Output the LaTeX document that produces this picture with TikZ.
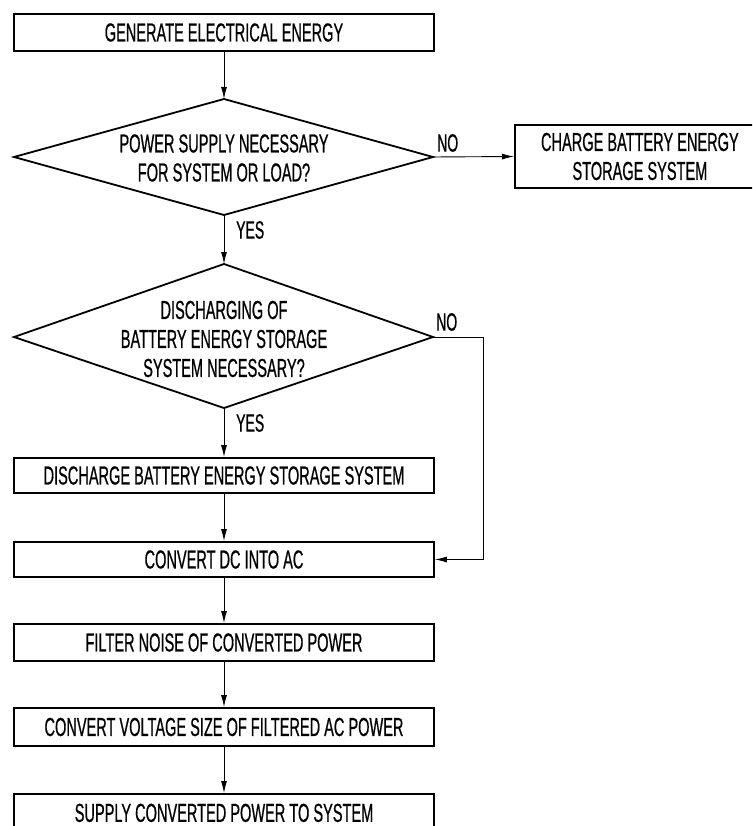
\documentclass[tikz,border=0pt]{standalone}
\usepackage{fontspec}
\setmainfont{Liberation Sans}[FakeStretch=0.56,FakeBold=0.6]
\usetikzlibrary{arrows.meta}
\begin{document}
\begin{tikzpicture}[x=1pt,y=-1pt,
  box/.style={draw, line width=1.8pt, inner sep=0pt, font=\fontsize{26}{29}\selectfont, align=center},
  dtext/.style={inner sep=0pt, font=\fontsize{26}{29}\selectfont, align=center},
  lbl/.style={inner sep=0pt, font=\fontsize{25}{26}\selectfont},
  dshape/.style={draw, line width=1.8pt, line join=miter},
  conn/.style={line width=0.9pt, -{Latex[length=12pt,width=6pt]}}]
\clip (0,0) rectangle (752,826);
\useasboundingbox (0,0) rectangle (752,826);
% boxes
\node[box, minimum width=420pt, minimum height=37pt] (gen) at (224,32.5) {GENERATE ELECTRICAL ENERGY};
\node[box, minimum width=250pt, minimum height=63pt, anchor=west] (charge) at (514,156.5) {CHARGE BATTERY ENERGY\\STORAGE SYSTEM};
\node[box, minimum width=420pt, minimum height=35pt] (dis) at (224,475.5) {DISCHARGE BATTERY ENERGY STORAGE SYSTEM};
\node[box, minimum width=420pt, minimum height=35pt] (dcac) at (224,559.5) {CONVERT DC INTO AC};
\node[box, minimum width=420pt, minimum height=37pt] (filt) at (224,642.5) {FILTER NOISE OF CONVERTED POWER};
\node[box, minimum width=420pt, minimum height=38pt] (volt) at (224,727) {CONVERT VOLTAGE SIZE OF FILTERED AC POWER};
\node[box, minimum width=420pt, minimum height=38pt, anchor=north] (sup) at (224,793) {SUPPLY CONVERTED POWER TO SYSTEM};
% diamond 1
\coordinate (d1t) at (224,99);
\coordinate (d1r) at (433,157);
\coordinate (d1b) at (224,215);
\coordinate (d1l) at (14,157);
\draw[dshape] (d1t) -- (d1r) -- (d1b) -- (d1l) -- cycle;
\node[dtext] (d1) at (224,158) {POWER SUPPLY NECESSARY\\FOR SYSTEM OR LOAD?};
% diamond 2
\coordinate (d2t) at (224,264);
\coordinate (d2r) at (433,337);
\coordinate (d2b) at (224,408);
\coordinate (d2l) at (14,337);
\draw[dshape] (d2t) -- (d2r) -- (d2b) -- (d2l) -- cycle;
\node[dtext] (d2) at (224,339) {DISCHARGING OF\\BATTERY ENERGY STORAGE\\SYSTEM NECESSARY?};
\coordinate (bend1) at (483,337);
\coordinate (bend2) at (483,559.5);
% connectors
\draw[conn] (gen.south) -- (d1t);
\draw[conn] (d1r) -- (charge.west);
\draw[conn] (d1b) -- (d2t);
\draw[conn] (d2b) -- (dis.north);
\draw[line width=0.9pt] (d2r) -- (bend1) -- (bend2);
\draw[conn] (bend2) -- (dcac.east);
\draw[conn] (dis.south) -- (dcac.north);
\draw[conn] (dcac.south) -- (filt.north);
\draw[conn] (filt.south) -- (volt.north);
\draw[conn] (volt.south) -- (sup.north);
% labels
\node[lbl, anchor=west] (no1) at (437,143) {NO};
\node[lbl, anchor=west] (yes1) at (236,230) {YES};
\node[lbl, anchor=west] (no2) at (436,322) {NO};
\node[lbl, anchor=west] (yes2) at (236,423) {YES};
\end{tikzpicture}
\end{document}
